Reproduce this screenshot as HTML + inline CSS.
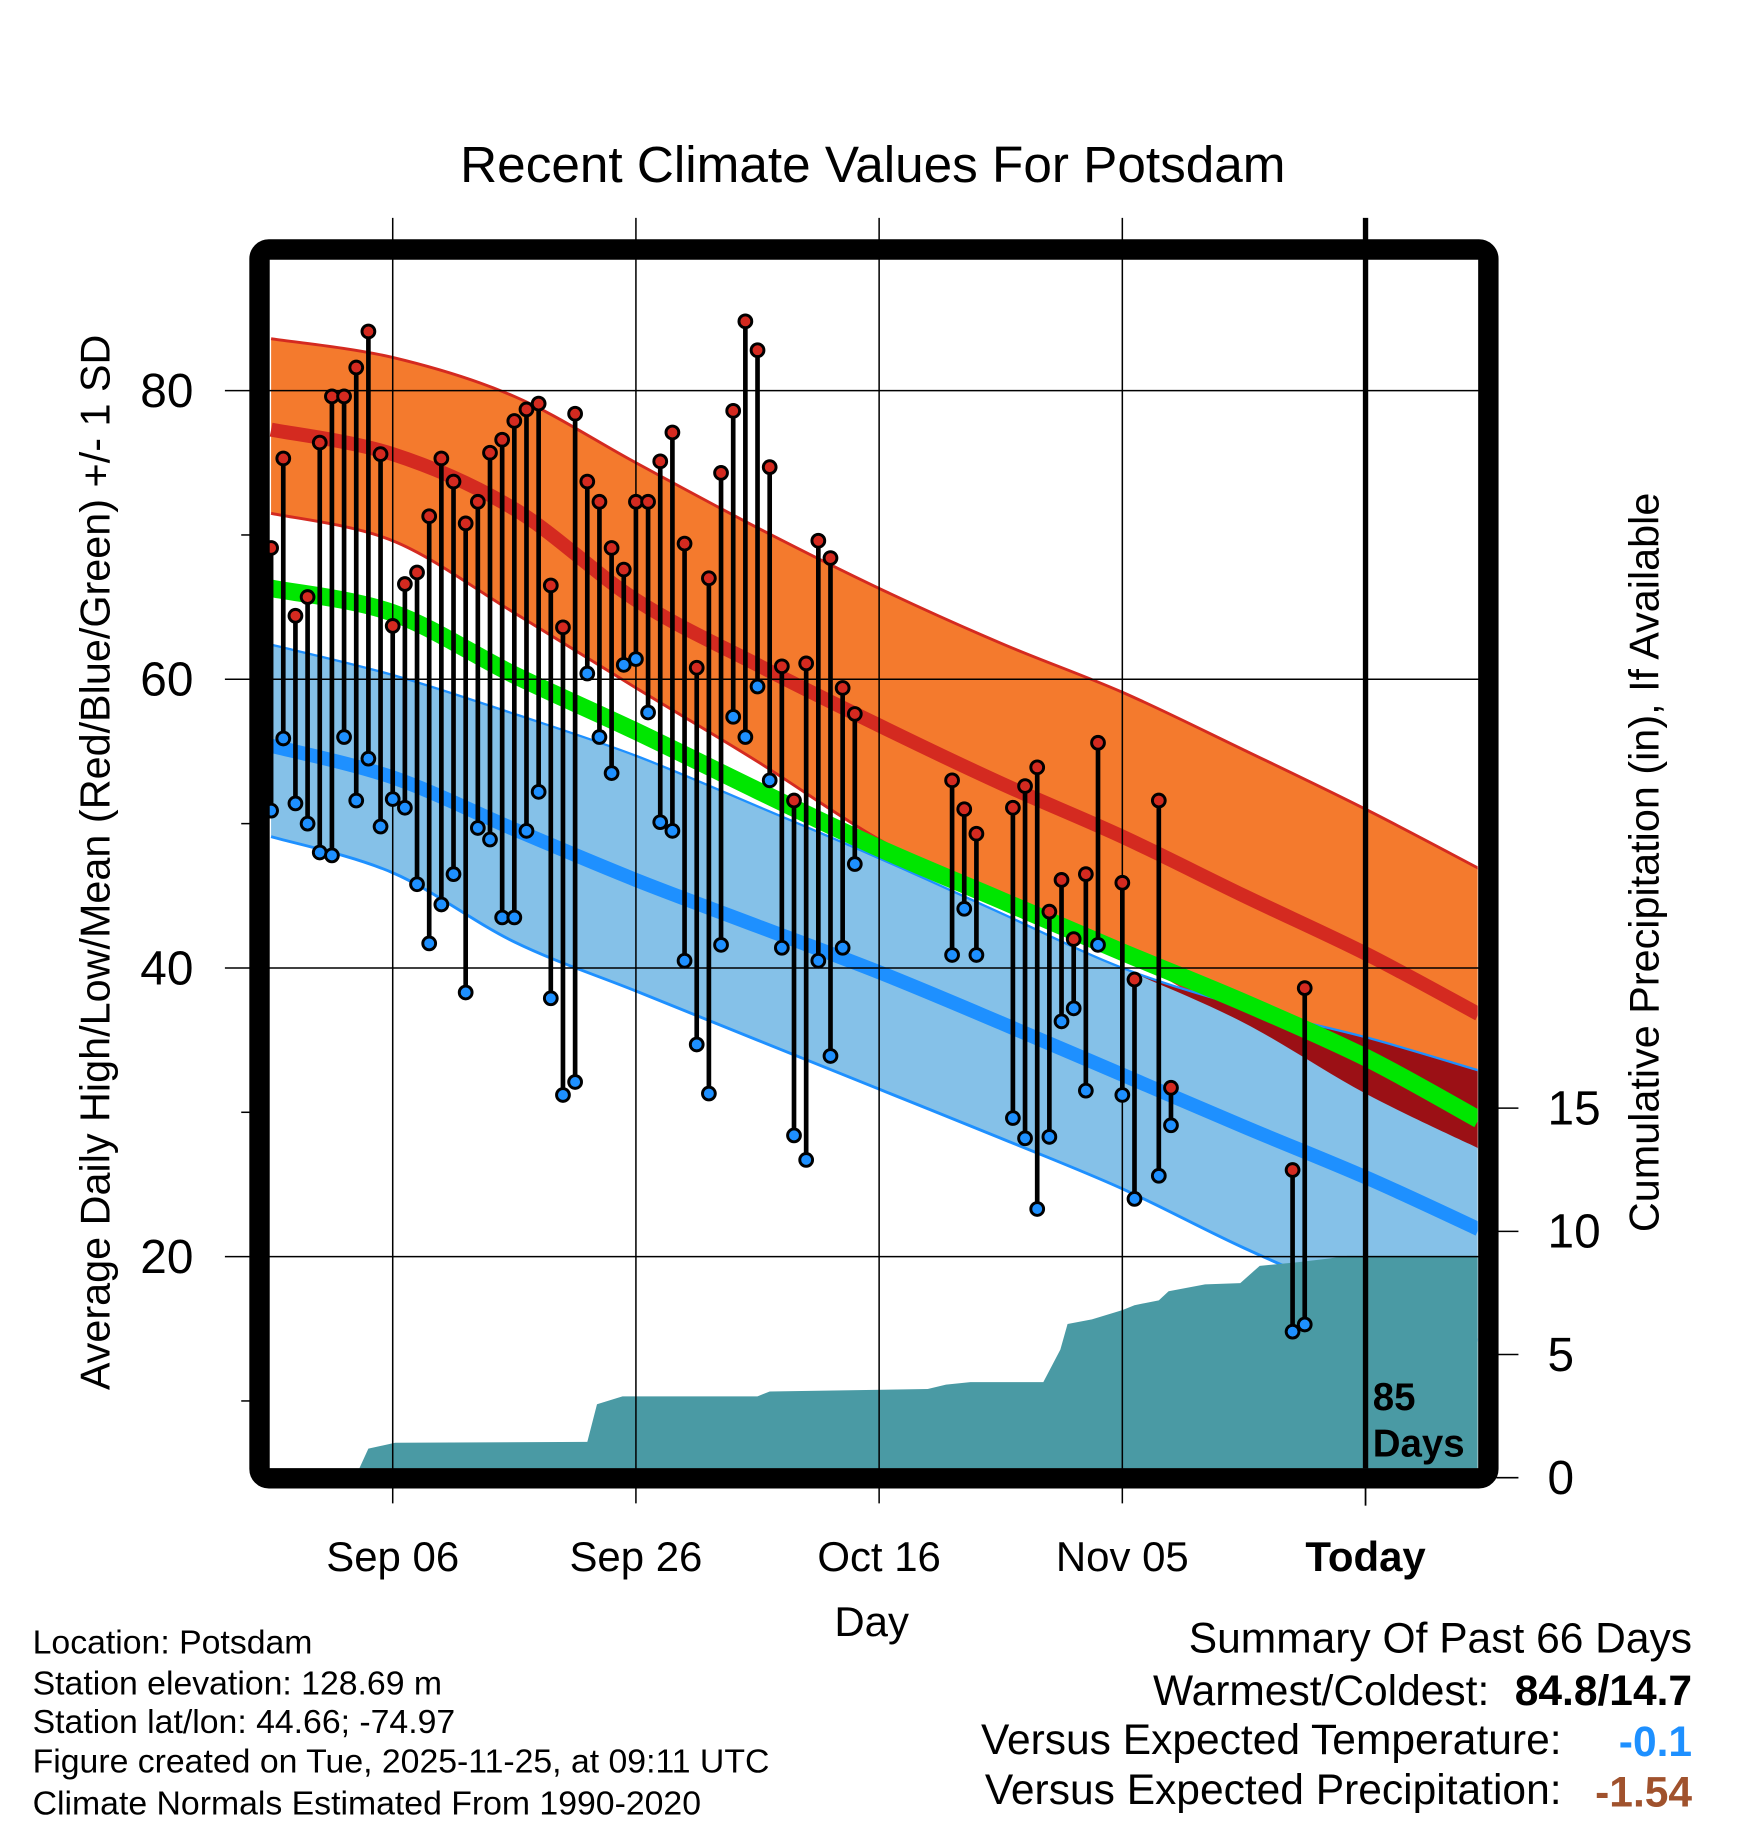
<!DOCTYPE html>
<html><head><meta charset="utf-8"><style>html,body{margin:0;padding:0;background:#fff}svg{display:block}text{font-family:"Liberation Sans",sans-serif}</style></head>
<body>
<svg id="chart" width="1748" height="1828" viewBox="0 0 1500 1568.6" preserveAspectRatio="none" xmlns="http://www.w3.org/2000/svg">
<defs><clipPath id="plotclip"><rect x="231" y="223" width="1037" height="1037"/></clipPath></defs>
<rect width="1500" height="1568.6" fill="#fff"/>
<g id="bands" clip-path="url(#plotclip)"></g>
<g id="precip" clip-path="url(#plotclip)"></g>
<g id="grid"></g>
<g id="obs"></g>
<rect x="222.7" y="214.1" width="1054.5" height="1054.4" rx="8" fill="none" stroke="#000" stroke-width="17.5"/>
<g id="axes"></g>
<text x="749" y="156" font-size="44" text-anchor="middle">Recent Climate Values For Potsdam</text>
<text transform="translate(94,740) rotate(-90)" font-size="35.5" text-anchor="middle">Average Daily High/Low/Mean (Red/Blue/Green) +/- 1 SD</text>
<text transform="translate(1423,740) rotate(-90)" font-size="35.5" text-anchor="middle">Cumulative Precipitation (in), If Available</text>
<text x="748" y="1404" font-size="36" text-anchor="middle">Day</text>
<text x="1178" y="1210" font-size="33" font-weight="bold">85</text>
<text x="1178" y="1250" font-size="33" font-weight="bold">Days</text>
<g font-size="29">
<text x="28" y="1419">Location: Potsdam</text>
<text x="28" y="1454">Station elevation: 128.69 m</text>
<text x="28" y="1487">Station lat/lon: 44.66; -74.97</text>
<text x="28" y="1521">Figure created on Tue, 2025-11-25, at 09:11 UTC</text>
<text x="28" y="1557">Climate Normals Estimated From 1990-2020</text>
</g>
<g font-size="36.5">
<text x="1452" y="1418" text-anchor="end">Summary Of Past 66 Days</text>
<text x="1278" y="1463" text-anchor="end">Warmest/Coldest:</text>
<text x="1452" y="1463" text-anchor="end" font-weight="bold">84.8/14.7</text>
<text x="1340" y="1505" text-anchor="end">Versus Expected Temperature:</text>
<text x="1452" y="1507" text-anchor="end" font-weight="bold" fill="#1e90ff">-0.1</text>
<text x="1340" y="1548" text-anchor="end">Versus Expected Precipitation:</text>
<text x="1452" y="1550" text-anchor="end" font-weight="bold" fill="#a0522d">-1.54</text>
</g>
</svg>
<script>
// normals (days relative to Sep 06)
const normDays = [-10, 0, 10, 20, 30, 40, 50, 60, 70, 80, 89.3];
const hiTop  = [83.6, 82.3, 79.6, 75.0, 70.5, 66.3, 62.5, 59.1, 55.1, 51.0, 46.9];
const hiMean = [77.3, 75.6, 71.8, 65.5, 61.0, 56.8, 52.8, 49.1, 45.0, 41.0, 36.8];
const hiBot  = [71.5, 69.6, 64.6, 59.4, 54.3, 48.9, 44.7, 41.0, 36.2, 31.3, 27.5];
const avgMean= [66.3, 64.6, 60.3, 56.4, 52.3, 48.3, 44.7, 41.1, 37.6, 33.8, 29.5];
const loTop  = [62.4, 60.3, 57.6, 54.7, 51.2, 47.6, 43.8, 40.0, 37.3, 35.2, 32.9];
const loMean = [55.4, 53.2, 49.6, 46.1, 42.9, 39.7, 36.2, 32.6, 29.0, 25.5, 21.9];
const loBot  = [49.1, 46.6, 41.8, 38.4, 35.0, 31.6, 28.2, 24.7, 20.6, 17.0, 14.2];
// observations
const obsDays = [-10,-9,-8,-7,-6,-5,-4,-3,-2,-1,0,1,2,3,4,5,6,7,8,9,10,11,12,13,14,15,16,17,18,19,20,21,22,23,24,25,26,27,28,29,30,31,32,33,34,35,36,37,38,46,47,48,51,52,53,54,55,56,57,58,60,61,63,64,74,75];
const obsHigh = [69.1,75.3,64.4,65.7,76.4,79.6,79.6,81.6,84.1,75.6,63.7,66.6,67.4,71.3,75.3,73.7,70.8,72.3,75.7,76.6,77.9,78.7,79.1,66.5,63.6,78.4,73.7,72.3,69.1,67.6,72.3,72.3,75.1,77.1,69.4,60.8,67.0,74.3,78.6,84.8,82.8,74.7,60.9,51.6,61.1,69.6,68.4,59.4,57.6,53.0,51.0,49.3,51.1,52.6,53.9,43.9,46.1,42.0,46.5,55.6,45.9,39.2,51.6,31.7,26.0,38.6];
const obsLow = [50.9,55.9,51.4,50.0,48.0,47.8,56.0,51.6,54.5,49.8,51.7,51.1,45.8,41.7,44.4,46.5,38.3,49.7,48.9,43.5,43.5,49.5,52.2,37.9,31.2,32.1,60.4,56.0,53.5,61.0,61.4,57.7,50.1,49.5,40.5,34.7,31.3,41.6,57.4,56.0,59.5,53.0,41.4,28.4,26.7,40.5,33.9,41.4,47.2,40.9,44.1,40.9,29.6,28.2,23.3,28.3,36.3,37.2,31.5,41.6,31.2,24.0,25.6,29.1,14.8,15.3];
// cumulative precipitation
const precipDays = [-10,-3.1,-2,0.2,16,16.8,18.9,30,31,44,45.5,47.5,53.5,54.9,55.5,57.5,60,61,63,63.8,66.8,69.7,71.3,74.5,77,78.5,89.3];
const precipCum  = [0,0,1.18,1.42,1.45,2.98,3.3,3.3,3.5,3.6,3.78,3.88,3.88,5.2,6.24,6.43,6.8,7.0,7.2,7.57,7.85,7.9,8.6,8.75,8.9,9.0,9.0];
const dayTicks = [0, 20, 40, 60, 80];
const dayTickLabels = ["Sep 06", "Sep 26", "Oct 16", "Nov 05", "Today"];
const tempTicks = [20, 40, 60, 80];
const tempMinor = [10, 30, 50, 70];
const precipTicks = [0, 5, 10, 15];

const NS = "http://www.w3.org/2000/svg";
const X = d => 337 + 10.435 * d;
const Y = v => 1326 - 12.385 * v;
const YP = p => 1268 - 21.14 * p;
function mk(tag, attrs, parent) { const e = document.createElementNS(NS, tag); for (const k in attrs) e.setAttribute(k, attrs[k]); parent.appendChild(e); return e; }
function xy(arr) { return normDays.map((d, i) => [X(d), Y(arr[i])]); }
function smooth(p) {
  let s = "";
  for (let i = 0; i < p.length - 1; i++) {
    const p0 = p[Math.max(0, i - 1)], p1 = p[i], p2 = p[i + 1], p3 = p[Math.min(p.length - 1, i + 2)];
    const c1 = [p1[0] + (p2[0] - p0[0]) / 6, p1[1] + (p2[1] - p0[1]) / 6];
    const c2 = [p2[0] - (p3[0] - p1[0]) / 6, p2[1] - (p3[1] - p1[1]) / 6];
    s += " C" + c1[0].toFixed(1) + "," + c1[1].toFixed(1) + " " + c2[0].toFixed(1) + "," + c2[1].toFixed(1) + " " + p2[0].toFixed(1) + "," + p2[1].toFixed(1);
  }
  return s;
}
function linePath(arr) { const p = xy(arr); return "M" + p[0][0] + "," + p[0][1] + smooth(p); }
function bandPath(top, bot) {
  const a = xy(top), b = xy(bot).reverse();
  return "M" + a[0][0] + "," + a[0][1] + smooth(a) + " L" + b[0][0] + "," + b[0][1] + smooth(b) + " Z";
}

const bands = document.getElementById("bands");
let e;
e = mk("path", {d: bandPath(hiTop, hiBot), fill: "#f47a2d"}, bands);


e = mk("path", {d: linePath(hiTop), fill: "none", stroke: "#d42a20", "stroke-width": 2.5}, bands);


e = mk("path", {d: linePath(hiBot), fill: "none", stroke: "#d42a20", "stroke-width": 2.5}, bands);


e = mk("path", {d: bandPath(loTop, loBot), fill: "#85c1e8"}, bands);


const ovBot = loTop.map((v, i) => Math.min(v, hiBot[i]));
e = mk("path", {d: bandPath(loTop, ovBot), fill: "#9b1015"}, bands);


e = mk("path", {d: linePath(loTop), fill: "none", stroke: "#1e90ff", "stroke-width": 2}, bands);


e = mk("path", {d: linePath(loBot), fill: "none", stroke: "#1e90ff", "stroke-width": 2.5}, bands);


e = mk("path", {d: linePath(avgMean), fill: "none", stroke: "#00e600", "stroke-width": 15}, bands);


e = mk("path", {d: linePath(hiMean), fill: "none", stroke: "#d42a20", "stroke-width": 12}, bands);


e = mk("path", {d: linePath(loMean), fill: "none", stroke: "#1e90ff", "stroke-width": 12}, bands);



const pg = document.getElementById("precip");
const pp = precipDays.map((d, i) => X(d).toFixed(1) + "," + YP(precipCum[i]).toFixed(1));
pp.push(X(precipDays[precipDays.length - 1]).toFixed(1) + ",1270", X(precipDays[0]).toFixed(1) + ",1270");
e = mk("polygon", {points: pp.join(" "), fill: "#4a9aa4"}, pg);



const grid = document.getElementById("grid");
tempTicks.forEach(v => {
  const l = mk("line", {x1: 193, x2: 1282, y1: Y(v), y2: Y(v), stroke: "#000", "stroke-width": 1.3}, grid);
  
  
});
dayTicks.forEach((d, i) => {
  const last = i === dayTicks.length - 1;
  const l = mk("line", {x1: X(d), x2: X(d), y1: 187, y2: last ? 1260 : 1290, stroke: "#000", "stroke-width": last ? 4.6 : 1.3}, grid);
  
  
  if (last) {
    const t = mk("line", {x1: X(d), x2: X(d), y1: 1270, y2: 1292, stroke: "#000", "stroke-width": 1.5}, grid);
    
    
  }
});

const obs = document.getElementById("obs");
obsDays.forEach((d, i) => {
  const s = mk("line", {x1: X(d), x2: X(d), y1: Y(obsHigh[i]), y2: Y(obsLow[i]), stroke: "#000", "stroke-width": 4}, obs);
  
  
});
obsDays.forEach((d, i) => {
  const h = mk("circle", {cx: X(d), cy: Y(obsHigh[i]), r: 5.5, fill: "#d42a20", stroke: "#000", "stroke-width": 2.5}, obs);
  
  
  const l = mk("circle", {cx: X(d), cy: Y(obsLow[i]), r: 5.5, fill: "#1e90ff", stroke: "#000", "stroke-width": 2.5}, obs);
  
  
});

const axes = document.getElementById("axes");
tempTicks.forEach(v => {
  const t = mk("text", {x: 166, y: Y(v) + 14, "font-size": 41, "text-anchor": "end"}, axes);
  t.textContent = v;
  
  
});
tempMinor.forEach(v => {
  const l = mk("line", {x1: 207, x2: 215, y1: Y(v), y2: Y(v), stroke: "#000", "stroke-width": 1.3}, axes);
  
  
});
precipTicks.forEach(p => {
  const l = mk("line", {x1: 1284, x2: 1303, y1: YP(p), y2: YP(p), stroke: "#000", "stroke-width": 1.3}, axes);
  
  
  const t = mk("text", {x: 1328, y: YP(p) + 14, "font-size": 41}, axes);
  t.textContent = p;
  
  
});
dayTicks.forEach((d, i) => {
  const last = i === dayTicks.length - 1;
  const t = mk("text", {x: X(d), y: 1348, "font-size": 36, "text-anchor": "middle"}, axes);
  if (last) t.setAttribute("font-weight", "bold");
  t.textContent = dayTickLabels[i];
  
  
});
</script>
</body></html>
